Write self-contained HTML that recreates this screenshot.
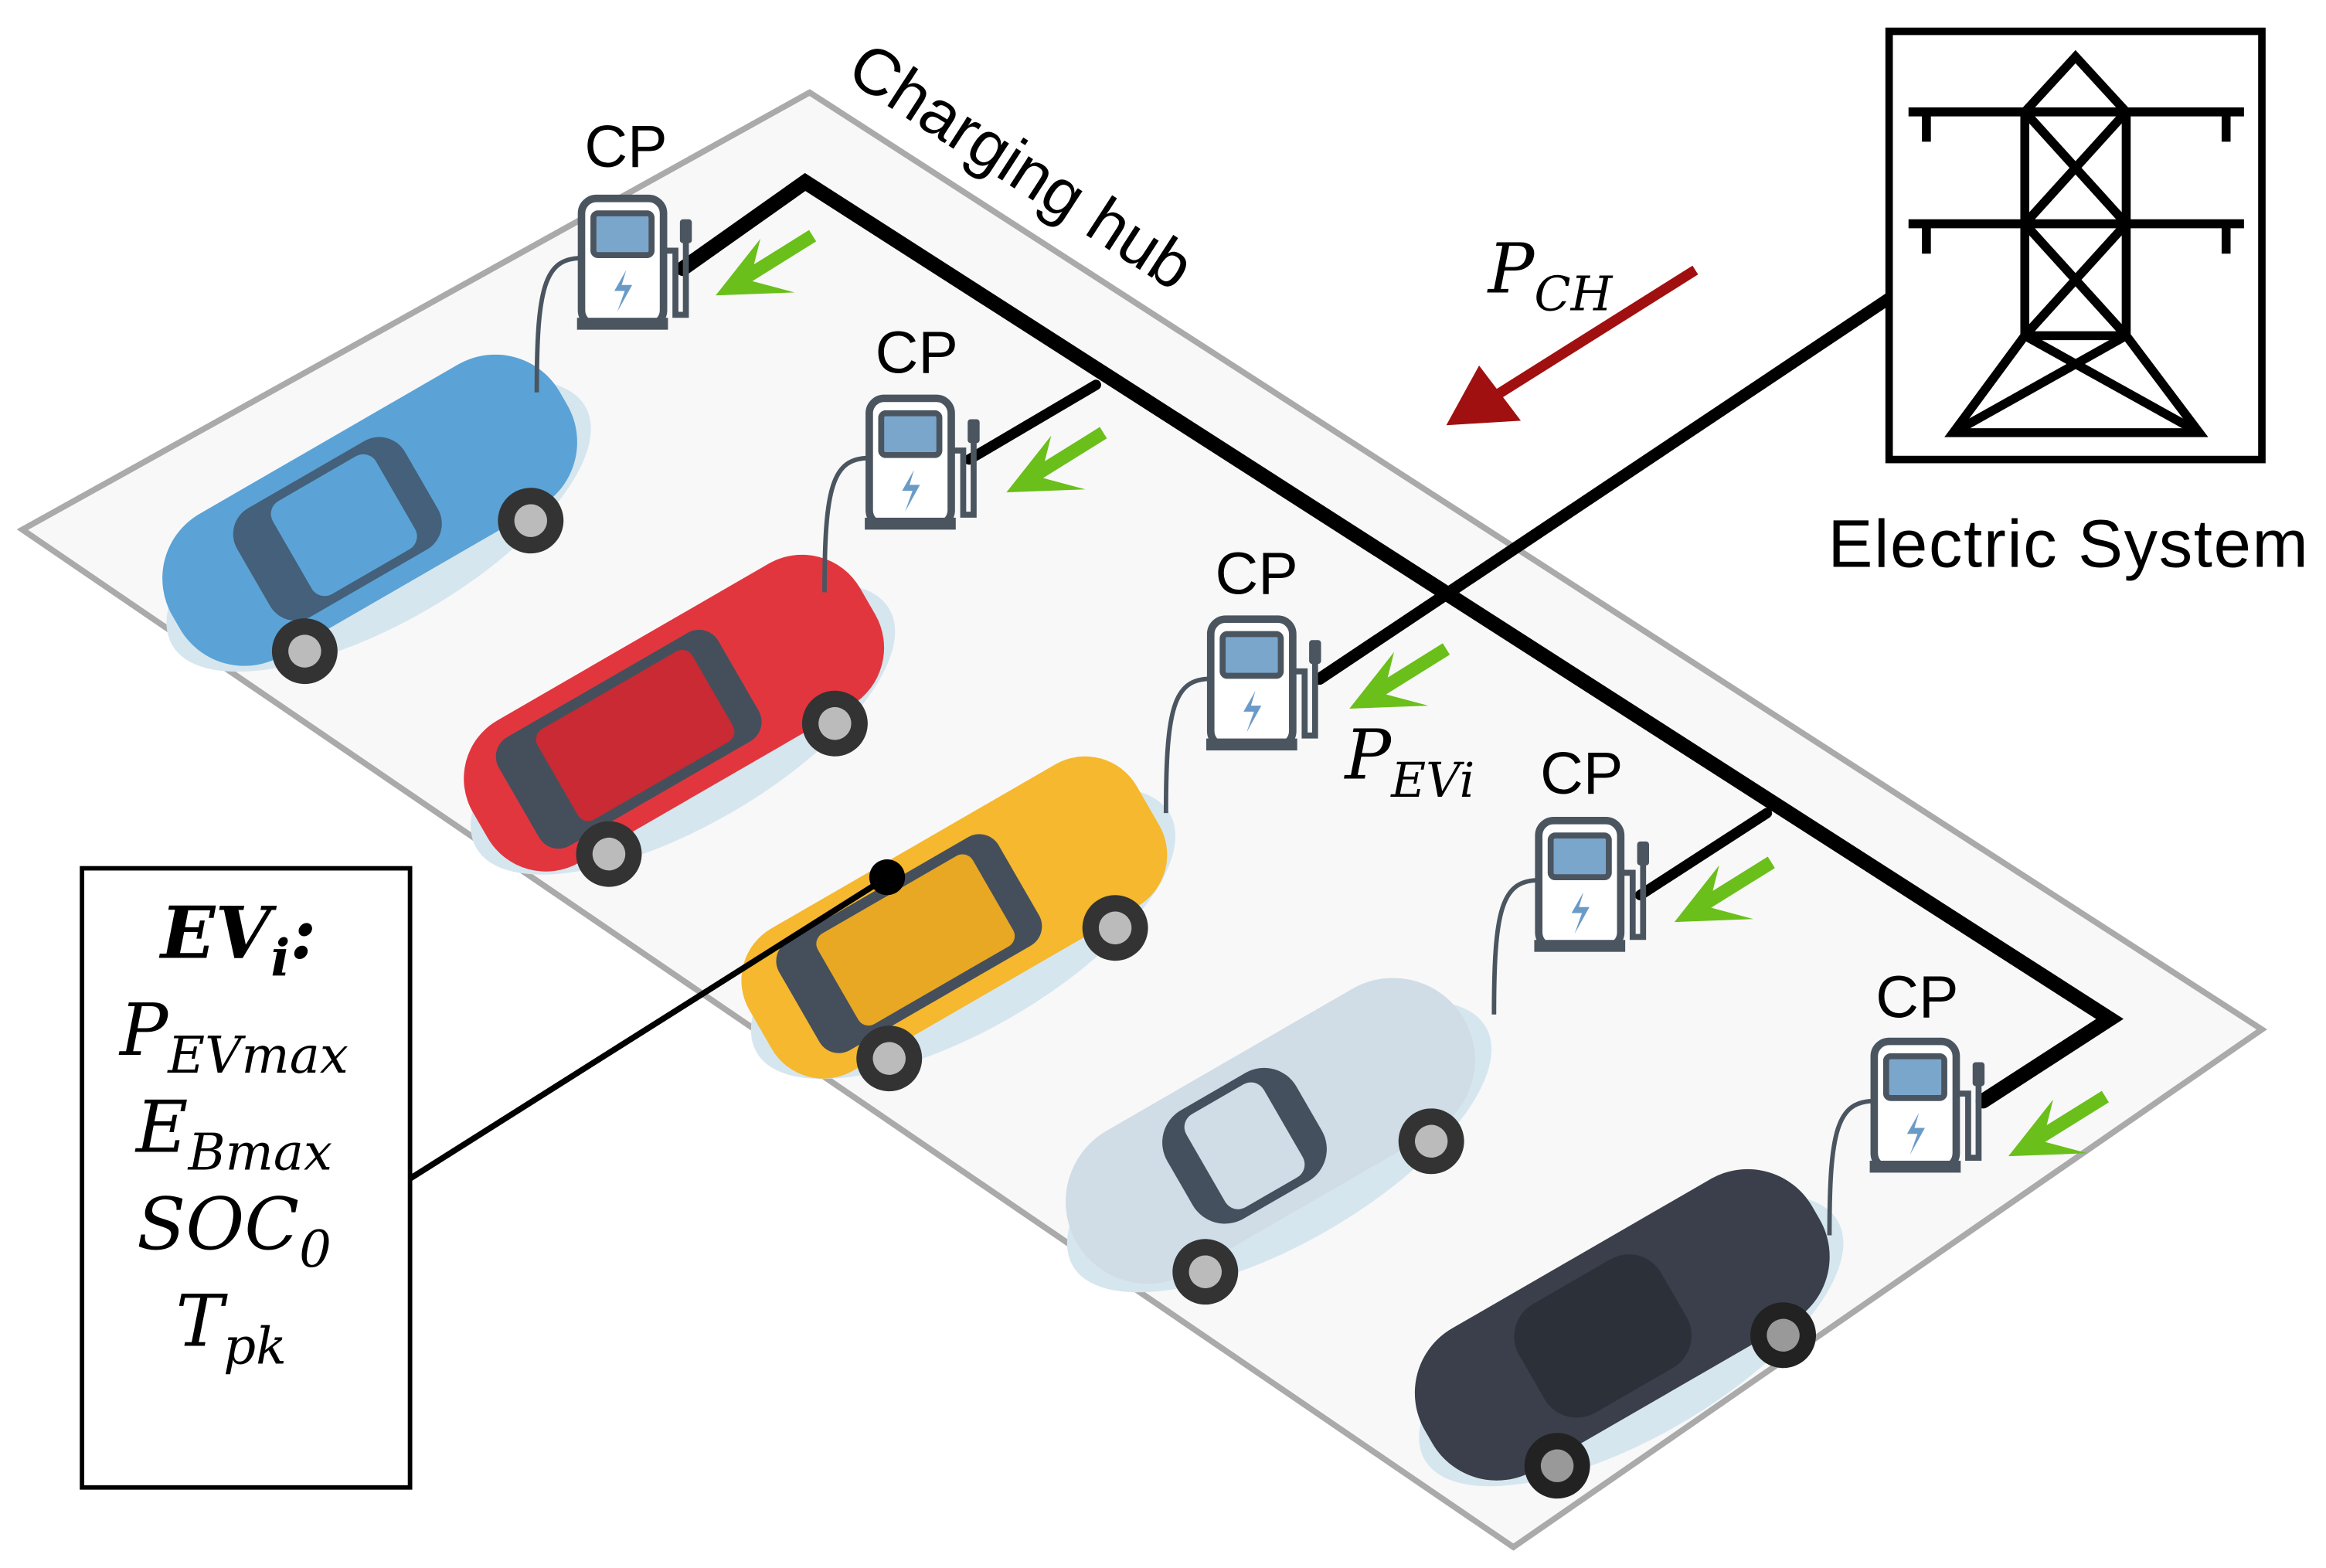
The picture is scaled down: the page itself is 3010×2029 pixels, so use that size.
<!DOCTYPE html>
<html><head><meta charset="utf-8"><style>
html,body{margin:0;padding:0;background:#fff;}
svg{display:block;}
.s{font-family:"Liberation Sans","DejaVu Sans",sans-serif;}
.m,.m text{font-family:"DejaVu Serif","Liberation Serif",serif;font-style:italic;}
</style></head><body>
<svg width="3010" height="2029" viewBox="0 0 1560 1051" preserveAspectRatio="none" xmlns="http://www.w3.org/2000/svg">
<defs>
<g id="cp">
  <path d="M0,40 C-25,40 -30,60 -30,130" fill="none" stroke="#4a5560" stroke-width="3"/>
  <rect x="0" y="0" width="55" height="85" rx="10" fill="#fff" stroke="#4a5560" stroke-width="5"/>
  <rect x="-3" y="80" width="61" height="8" fill="#4a5560"/>
  <rect x="8" y="10" width="39" height="28" rx="3" fill="#7aa6cc" stroke="#4a5560" stroke-width="4"/>
  <path d="M30,48 L22,62 L29,62 L24,76 L34,58 L27,58 Z" fill="#6a9bc7"/>
  <path d="M55,35 L63,35 L63,78 L70,78 L70,25" fill="none" stroke="#4a5560" stroke-width="4"/>
  <rect x="66" y="14" width="8" height="16" rx="2" fill="#4a5560"/>
</g>
<g id="ga"><path d="M0,0 L-45,28" stroke="#6abf1a" stroke-width="9"/><path d="M-65,40 L-35,2 L-42,30 L-12,38 Z" fill="#6abf1a"/></g>
</defs>
<polygon points="15,355 543,62 1517,690 1015,1037" fill="#f8f8f8" stroke="#aaa" stroke-width="4"/>
<!-- cars -->
<g transform="translate(248,342) rotate(-30)">
 <ellipse cx="0" cy="12" rx="160" ry="65" fill="#d6e6ef"/>
 <rect x="-150" y="-55" width="300" height="110" rx="50" fill="#5ba3d6"/>
 <rect x="-90" y="-42" width="130" height="84" rx="20" fill="#44607a"/>
 <rect x="-60" y="-36" width="80" height="72" rx="10" fill="#5ba3d6"/>
 <circle cx="-85" cy="60" r="22" fill="#333"/><circle cx="90" cy="60" r="22" fill="#333"/>
 <circle cx="-85" cy="60" r="11" fill="#bbb"/><circle cx="90" cy="60" r="11" fill="#bbb"/>
</g>
<g transform="translate(452,478) rotate(-30)">
 <ellipse cx="0" cy="12" rx="160" ry="65" fill="#d6e6ef"/>
 <rect x="-150" y="-55" width="300" height="110" rx="45" fill="#e2363e"/>
 <rect x="-120" y="-42" width="170" height="84" rx="15" fill="#454f5c"/>
 <rect x="-90" y="-35" width="120" height="70" rx="8" fill="#c92a33"/>
 <circle cx="-85" cy="60" r="22" fill="#333"/><circle cx="90" cy="60" r="22" fill="#333"/>
 <circle cx="-85" cy="60" r="11" fill="#bbb"/><circle cx="90" cy="60" r="11" fill="#bbb"/>
</g>
<g transform="translate(640,615) rotate(-30)">
 <ellipse cx="0" cy="12" rx="160" ry="65" fill="#d6e6ef"/>
 <rect x="-150" y="-55" width="300" height="110" rx="40" fill="#f5b82e"/>
 <rect x="-120" y="-42" width="170" height="84" rx="15" fill="#454f5c"/>
 <rect x="-90" y="-35" width="120" height="70" rx="8" fill="#e9a823"/>
 <circle cx="-85" cy="60" r="22" fill="#333"/><circle cx="90" cy="60" r="22" fill="#333"/>
 <circle cx="-85" cy="60" r="11" fill="#bbb"/><circle cx="90" cy="60" r="11" fill="#bbb"/>
</g>
<g transform="translate(852,758) rotate(-30)">
 <ellipse cx="0" cy="12" rx="160" ry="65" fill="#d6e6ef"/>
 <rect x="-150" y="-55" width="300" height="110" rx="55" fill="#d0dde6"/>
 <rect x="-70" y="-42" width="100" height="84" rx="25" fill="#44505e"/>
 <rect x="-50" y="-36" width="60" height="72" rx="10" fill="#d0dde6"/>
 <circle cx="-85" cy="60" r="22" fill="#333"/><circle cx="90" cy="60" r="22" fill="#333"/>
 <circle cx="-85" cy="60" r="11" fill="#bbb"/><circle cx="90" cy="60" r="11" fill="#bbb"/>
</g>
<g transform="translate(1088,888) rotate(-30)">
 <ellipse cx="0" cy="12" rx="160" ry="65" fill="#d6e6ef"/>
 <rect x="-150" y="-55" width="300" height="110" rx="50" fill="#3a3f4b"/>
 <rect x="-70" y="-42" width="110" height="84" rx="25" fill="#2c3039"/>
 <circle cx="-85" cy="60" r="22" fill="#222"/><circle cx="90" cy="60" r="22" fill="#222"/>
 <circle cx="-85" cy="60" r="11" fill="#999"/><circle cx="90" cy="60" r="11" fill="#999"/>
</g>
<!-- wiring -->
<g stroke="#000" fill="none" stroke-linecap="round">
 <polyline points="458,180 540,122 1415,683 1330,738" stroke-width="10"/>
 <line x1="735" y1="258" x2="650" y2="308" stroke-width="7"/>
 <line x1="1185" y1="545" x2="1100" y2="600" stroke-width="7"/>
 <line x1="1267" y1="200" x2="885" y2="455" stroke-width="8"/>
 <line x1="275" y1="790" x2="595" y2="588" stroke-width="4"/>
</g>
<circle cx="595" cy="588" r="12" fill="#000"/>
<!-- chargers -->
<use href="#cp" x="390" y="133"/>
<use href="#cp" x="583" y="267"/>
<use href="#cp" x="812" y="415"/>
<use href="#cp" x="1032" y="550"/>
<use href="#cp" x="1257" y="698"/>
<g class="s" font-size="40" fill="#000">
<text x="392" y="112">CP</text><text x="587" y="250">CP</text><text x="815" y="398">CP</text><text x="1033" y="532">CP</text><text x="1258" y="682">CP</text>
</g>
<use href="#ga" x="545" y="158"/>
<use href="#ga" x="740" y="290"/>
<use href="#ga" x="970" y="435"/>
<use href="#ga" x="1188" y="578"/>
<use href="#ga" x="1412" y="735"/>
<!-- electric system -->
<rect x="1267" y="21" width="250" height="287" fill="#fff" stroke="#000" stroke-width="5"/>
<g stroke="#000" stroke-width="6" fill="none">
 <line x1="1280" y1="75" x2="1505" y2="75"/><line x1="1280" y1="150" x2="1505" y2="150"/>
 <line x1="1292" y1="75" x2="1292" y2="95"/><line x1="1493" y1="75" x2="1493" y2="95"/>
 <line x1="1292" y1="150" x2="1292" y2="170"/><line x1="1493" y1="150" x2="1493" y2="170"/>
 <polyline points="1358,75 1392,38 1426,75"/>
 <polyline points="1358,75 1358,225 1310,290 1475,290 1426,225 1426,75"/>
 <line x1="1358" y1="75" x2="1426" y2="150"/><line x1="1426" y1="75" x2="1358" y2="150"/>
 <line x1="1358" y1="150" x2="1426" y2="225"/><line x1="1426" y1="150" x2="1358" y2="225"/>
 <line x1="1358" y1="225" x2="1475" y2="290"/><line x1="1426" y1="225" x2="1310" y2="290"/>
 <line x1="1358" y1="225" x2="1426" y2="225"/>
</g>
<text class="s" x="1226" y="380" font-size="45" textLength="322">Electric System</text>
<text class="s" x="0" y="0" font-size="44" transform="translate(566,52) rotate(33)">Charging hub</text>
<!-- P_CH arrow -->
<line x1="1137" y1="181" x2="1005" y2="264" stroke="#a01010" stroke-width="7"/>
<polygon points="970,285 992,245 1020,282" fill="#a01010"/>
<text class="m" x="998" y="196" font-size="46">P<tspan font-size="32" dy="12">CH</tspan></text>
<text class="m" x="902" y="522" font-size="46">P<tspan font-size="32" dy="12">EVi</tspan></text>
<!-- EV box -->
<rect x="55" y="582" width="220" height="415" fill="#fff" stroke="#000" stroke-width="3"/>
<g class="m" font-size="48" text-anchor="middle">
<text x="160" y="642" font-weight="bold">EV<tspan font-size="34" dy="12">i</tspan><tspan dy="-12">:</tspan></text>
<text x="157" y="707">P<tspan font-size="34" dy="12">EVmax</tspan></text>
<text x="157" y="772">E<tspan font-size="34" dy="12">Bmax</tspan></text>
<text x="157" y="837">SOC<tspan font-size="34" dy="12">0</tspan></text>
<text x="155" y="902">T<tspan font-size="34" dy="12">pk</tspan></text>
</g>
</svg>
</body></html>
